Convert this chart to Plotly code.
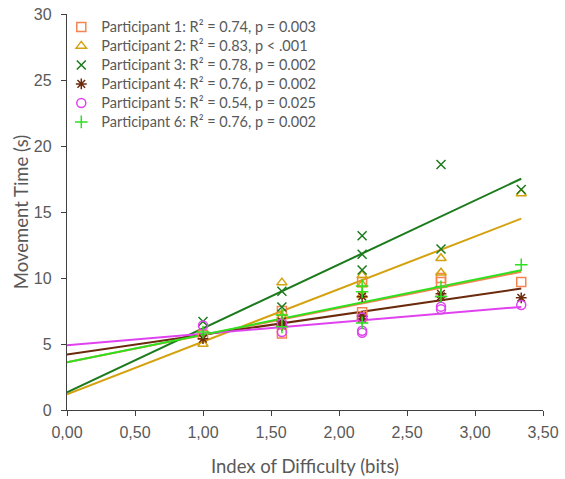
import numpy as np
import plotly.graph_objects as go

# Index of difficulty for each trial (same design for all participants)
id_bits = [1.00, 1.58, 1.58, 2.17, 2.17, 2.17, 2.75, 2.75, 3.34]

names = [
    "Participant 1: R² = 0.74, p = 0.003",
    "Participant 2: R² = 0.83, p < .001",
    "Participant 3: R² = 0.78, p = 0.002",
    "Participant 4: R² = 0.76, p = 0.002",
    "Participant 5: R² = 0.54, p = 0.025",
    "Participant 6: R² = 0.76, p = 0.002",
]

p1 = [5.7, 7.5, 5.8, 9.7, 7.1, 7.4, 10.0, 9.7, 9.7]
p2 = [5.0, 9.65, 7.1, 10.2, 9.5, 8.7, 11.5, 10.4, 16.4]
p3 = [6.7, 9.0, 7.8, 13.2, 11.8, 10.6, 18.6, 12.2, 16.7]
p4 = [5.4, 6.7, 6.4, 8.6, 7.1, 6.9, 8.8, 8.6, 8.5]
p5 = [6.4, 5.9, 6.55, 7.0, 6.0, 5.85, 7.83, 7.63, 7.95]
p6 = [5.9, 7.2, 6.3, 9.4, 8.96, 6.6, 9.34, 8.6, 11.0]

series = [p1, p2, p3, p4, p5, p6]
colors = ["#F7834F", "#D4A20F", "#1B7A1B", "#6B2A0C", "#E042F0", "#2EE01E"]
symbols = ["square-open", "triangle-up-open", "x-thin-open", "asterisk-open",
           "circle-open", "cross-thin-open"]

fig = go.Figure()
x_arr = np.array(id_bits)
for name, ys, col, sym in zip(names, series, colors, symbols):
    slope, icpt = np.polyfit(x_arr, np.array(ys), 1)
    xs = [0.0, float(x_arr.max())]
    fig.add_trace(go.Scatter(
        x=xs, y=[icpt + slope * v for v in xs], mode="lines",
        line=dict(color=col, width=2), showlegend=False, hoverinfo="skip"))

for name, ys, col, sym in zip(names, series, colors, symbols):
    fig.add_trace(go.Scatter(
        x=id_bits, y=ys, mode="markers",
        name='<span style="font-size:14.5px">' + name + '</span>',
        marker=dict(symbol=sym, size=9, color=col,
                    line=dict(color=col, width=1.5))))

title_font = "Lato, 'Open Sans', sans-serif"
tick_font = "'Liberation Sans', Arial, sans-serif"
fig.update_layout(
    width=565, height=479,
    margin=dict(l=67, r=22, t=14, b=69),
    plot_bgcolor="white", paper_bgcolor="white",
    separators=",.",
    font=dict(family=title_font, color="#595959", size=15),
    xaxis=dict(
        range=[0, 3.5], dtick=0.5, tick0=0, tickformat=".2f",
        automargin=False,
        showgrid=False, zeroline=False, showline=True,
        linecolor="#404040", linewidth=1.3,
        ticks="outside", ticklen=5, tickcolor="#404040",
        ticklabelstandoff=3,
        tickfont=dict(family=tick_font, size=16, color="#595959"),
        title=dict(text="Index of Difficulty (bits)", standoff=19,
                   font=dict(family=title_font, size=18.5, color="#595959")),
    ),
    yaxis=dict(
        range=[0, 30], dtick=5, tick0=0,
        automargin=False,
        showgrid=False, zeroline=False, showline=True,
        linecolor="#404040", linewidth=1.3,
        ticks="outside", ticklen=5, tickcolor="#404040",
        ticklabelstandoff=6,
        tickfont=dict(family=tick_font, size=16, color="#595959"),
        title=dict(text="Movement Time (s)", standoff=0,
                   font=dict(family=title_font, size=18.5, color="#595959")),
    ),
    legend=dict(
        x=-0.012, y=1.004, xanchor="left", yanchor="top",
        bgcolor="rgba(255,255,255,0)",
        font=dict(size=12, color="#595959", family=title_font),
        itemwidth=30, tracegroupgap=0,
    ),
)

fig.write_html("out.html",
               config={"displayModeBar": False},
               post_script="document.body.style.margin='0px';")
